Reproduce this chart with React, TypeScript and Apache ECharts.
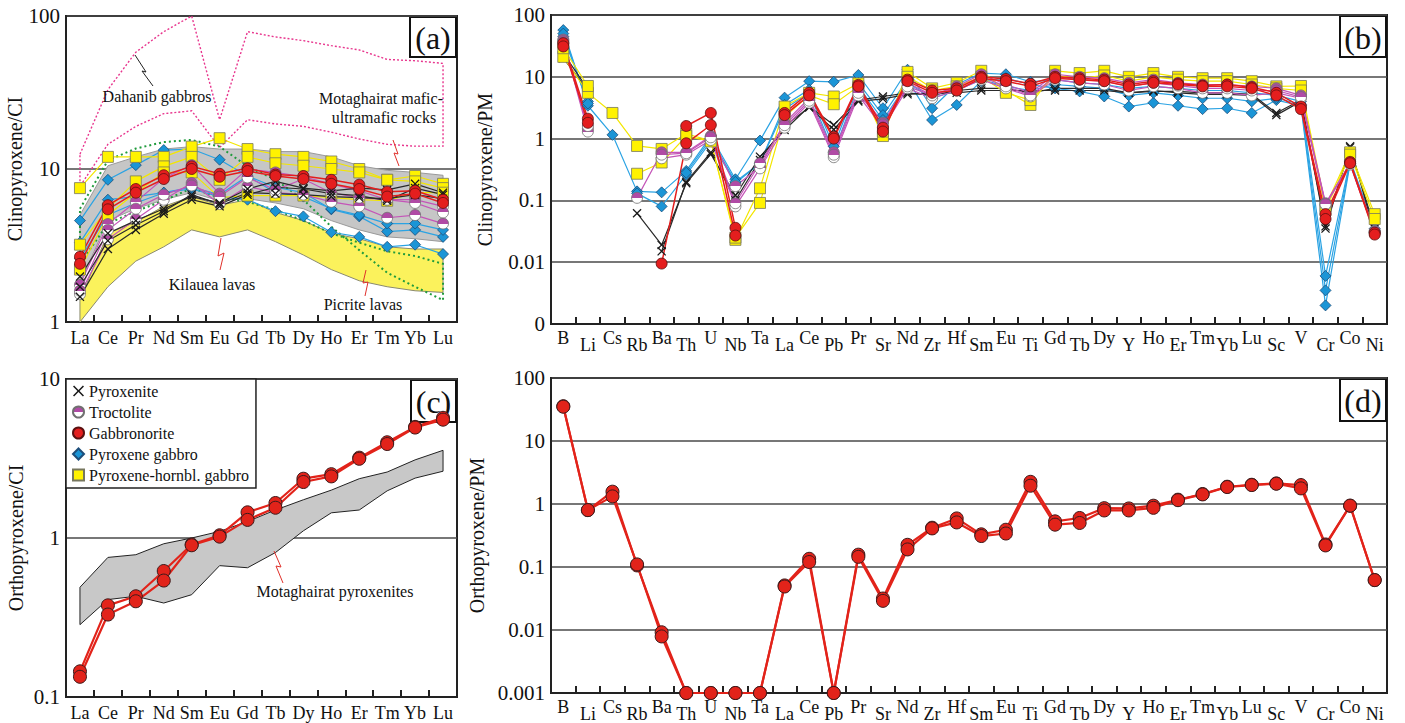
import React, { useEffect, useRef } from 'react';
import * as echarts from 'echarts';

const SERIF = 'Liberation Serif';

// ---------- categories ----------
const REE = ['La', 'Ce', 'Pr', 'Nd', 'Sm', 'Eu', 'Gd', 'Tb', 'Dy', 'Ho', 'Er', 'Tm', 'Yb', 'Lu'];
const SPIDER = ['B', 'Li', 'Cs', 'Rb', 'Ba', 'Th', 'U', 'Nb', 'Ta', 'La', 'Ce', 'Pb', 'Pr', 'Sr', 'Nd', 'Zr', 'Hf', 'Sm', 'Eu', 'Ti', 'Gd', 'Tb', 'Dy', 'Y', 'Ho', 'Er', 'Tm', 'Yb', 'Lu', 'Sc', 'V', 'Cr', 'Co', 'Ni'];

// ---------- panel (a): clinopyroxene / CI ----------
const aPyroxenite1 = [1.46, 3.0, 4.0, 5.1, 6.3, 5.7, 6.8, 7.6, 7.4, 6.9, 6.7, 6.2, 7.5, 6.8];
const aPyroxenite2 = [1.98, 3.8, 4.6, 5.5, 6.6, 6.0, 7.4, 8.3, 7.5, 7.2, 7.5, 7.3, 8.0, 7.0];
const aPyroxenite3 = [1.7, 3.4, 4.3, 5.3, 6.8, 5.9, 7.0, 6.9, 6.8, 6.6, 6.5, 6.4, 6.8, 6.4];
const aTroctolite1 = [1.75, 4.37, 6.1, 8.7, 10.6, 6.9, 10.0, 9.5, 8.9, 8.0, 7.2, 6.3, 6.3, 5.7];
const aTroctolite2 = [1.52, 3.47, 4.7, 6.3, 8.1, 5.9, 7.7, 7.0, 6.8, 6.1, 5.7, 4.8, 5.0, 4.4];
const aTroctolite3 = [1.6, 4.0, 5.5, 6.8, 7.8, 6.6, 8.8, 7.3, 8.6, 7.0, 6.5, 6.3, 6.0, 5.2];
const aGabbronorite1 = [2.67, 5.8, 7.4, 9.1, 10.4, 9.3, 10.1, 9.2, 9.0, 8.5, 7.9, 7.1, 7.2, 6.3];
const aGabbronorite2 = [2.4, 5.45, 7.0, 8.6, 10.0, 8.9, 9.7, 9.0, 8.6, 8.0, 7.4, 6.6, 6.9, 6.0];
const aPxGabbro1 = [4.6, 8.5, 10.6, 13.3, 13.5, 11.5, 9.0, 7.6, 7.0, 5.45, 4.9, 3.9, 4.0, 3.6];
const aPxGabbro2 = [3.3, 6.3, 6.6, 7.0, 7.4, 6.6, 6.3, 5.3, 4.9, 3.86, 3.6, 3.1, 3.2, 2.78];
const aPxGabbro3 = [2.6, 5.0, 6.0, 7.0, 7.6, 6.8, 9.0, 7.0, 6.6, 5.5, 5.0, 4.4, 4.4, 4.0];
const aPxHbGabbro1 = [7.5, 12.0, 12.0, 12.0, 14.0, 15.9, 13.5, 12.5, 12.0, 11.2, 10.0, 8.5, 9.0, 8.0];
const aPxHbGabbro2 = [3.2, 5.5, 8.3, 10.4, 12.0, 8.5, 12.0, 10.9, 10.5, 10.0, 9.5, 8.5, 8.3, 7.5];
const aPxHbGabbro3 = [2.2, 5.0, 7.0, 9.5, 9.5, 6.5, 6.7, 6.7, 6.7, 6.5, 6.3, 6.2, 7.0, 7.0];

// fields of panel (a)
const dahanibUpper = [12.5, 33, 58, 79, 100, 21, 79, 73, 69, 64, 60, 52, 51, 49];
const dahanibLower = [7.7, 14.5, 19, 23, 24, 13.8, 21, 19.7, 19, 17.4, 15.7, 14.5, 14.1, 14.1];
const motaghairatUpper = [5.0, 10.5, 12, 13.5, 14, 13.5, 13.5, 13, 13, 12, 10.5, 9.8, 9.5, 9.1];
const motaghairatLower = [1.8, 4.6, 5.5, 6.3, 7.0, 6.2, 6.4, 6.0, 5.5, 4.6, 4.0, 3.6, 3.5, 3.35];
const kilaueaUpper = [1.4, 3.8, 4.5, 5.7, 6.6, 5.8, 6.3, 5.2, 4.6, 3.8, 3.5, 3.1, 3.0, 3.0];
const kilaueaLower = [1.0, 1.7, 2.5, 3.1, 4.0, 3.6, 4.0, 3.35, 2.74, 2.2, 1.86, 1.7, 1.6, 1.56];
const picriteUpper = [5.5, 11.4, 13.6, 15, 15.5, 14, 10.4, 8.5, 6.3, 4.2, 2.95, 2.1, 1.7, 1.39];
const picriteLower = [2.4, 4.4, 5.3, 6.2, 7.5, 6.5, 6.1, 5.4, 4.6, 3.8, 3.3, 2.9, 2.7, 2.4];

// ---------- panel (b): clinopyroxene / PM ----------
const bPxGabbro1 = [57, 3.4, 1.15, 0.14, 0.135, 0.3, 1.1, 0.22, 0.93, 4.6, 8.5, 8.3, 10.7, 3.1, 13, 3.1, 7.5, 11.5, 11, 8.3, 9, 8, 7.5, 6.5, 7, 6.5, 6, 6, 5.5, 5, 4, 0.006, 0.45, 0.035];
const bPxGabbro2 = [45, 4.0, null, 0.13, 0.08, 0.26, 0.9, 0.19, 0.4, 3.5, 6.2, 0.75, 8, 2.4, 9, 2.0, 3.5, 8.5, 9.5, 7.5, 6.5, 5.8, 4.8, 3.3, 3.8, 3.4, 3.0, 3.1, 2.6, 4.2, 3.4, 0.002, 0.4, 0.03];
const bPxGabbro3 = [50, 3.7, null, null, null, 0.28, 1.0, 0.2, 0.4, 3.0, 5.5, 0.6, 7, 2.0, 8, 4.5, 6, 9, 7, 6, 7.5, 7, 6.5, 5, 5.5, 5, 4.5, 4.5, 4, 4.5, 3.6, 0.0035, 0.42, 0.032];
const bPxHbGabbro1 = [21, 5.5, 2.6, 0.76, 0.68, 1.2, 0.92, 0.023, 0.157, 3.3, 5.5, 4.8, 7.8, 1.1, 12, 6.5, 8, 12.5, 6, 3.5, 12.5, 11.5, 12.5, 10, 11.5, 10, 9.5, 9.5, 8.5, 7, 7.1, 0.08, 0.6, 0.06];
const bPxHbGabbro2 = [29, 7.1, null, 0.27, 0.41, 1.1, 0.9, 0.025, 0.091, 2.26, 5.0, 3.6, 7, 1.3, 10, 6, 7, 10, 5.5, 4.2, 10.5, 9.5, 10.5, 8.5, 10, 9, 8.5, 8.5, 7.5, 6.5, 6, 0.07, 0.55, 0.05];
const bGabbronorite1 = [35, 2.1, null, null, null, 1.6, 2.6, 0.036, null, 2.6, 5.5, 1.07, 7.4, 1.5, 9, 6, 6.5, 10, 9.2, 7.7, 10, 9.5, 9, 7.5, 8.5, 7.8, 7.2, 7.5, 6.8, 5.5, 3.3, 0.06, 0.42, 0.03];
const bGabbronorite2 = [31, 1.8, null, null, 0.0095, 0.84, 1.66, 0.027, null, 2.4, 5.0, 1.0, 7.0, 1.3, 8.5, 5.5, 6, 9.5, 8.5, 7, 9.5, 9, 8.5, 7, 8, 7.5, 7, 7, 6.5, 5, 3.0, 0.05, 0.4, 0.028];
const bTroctolite1 = [40, 1.45, null, 0.11, 0.6, 0.6, 1.1, 0.17, 0.35, 1.8, 4.5, 0.6, 6, 1.8, 8, 5, 7, 11, 7.5, 5.5, 11, 10, 9.5, 8, 9, 8, 7.5, 7.5, 7, 6.5, 5, 0.09, 0.4, 0.032];
const bTroctolite2 = [38, 1.3, null, null, 0.48, 0.55, 0.95, 0.08, 0.33, 1.5, 3.8, 0.5, 5, 1.5, 6.5, 4.5, 6, 9, 6.5, 4.8, 9, 8, 7.5, 6, 7, 6.5, 5.5, 5.5, 5, 5.5, 4.5, 0.085, 0.38, 0.03];
const bTroctolite3 = [36, 1.6, null, null, 0.55, 0.58, 1.05, 0.09, 0.4, 1.65, 4.1, 0.55, 5.5, 1.7, 7, 5, 6.5, 10, 7, 5, 10, 9, 8.5, 7, 8, 7.2, 6.5, 6.5, 6, 6, 4.7, 0.087, 0.4, 0.031];
const bPyroxenite1 = [24, 6.3, null, 0.062, 0.019, 0.19, 0.56, 0.12, 0.51, 1.38, 3.3, 1.66, 4.2, 4.8, 5.5, 5, 6, 6.5, 6.5, 5.5, 6.5, 6.5, 6.5, 5.5, 6, 5.5, 5.2, 5.2, 5, 2.4, 4, 0.035, 0.75, 0.03];
const bPyroxenite2 = [20, 6, null, null, 0.015, 0.2, 0.6, 0.1, 0.45, 1.6, 3.2, 1.4, 4.0, 4.4, 5.2, 5.5, 5.5, 6, 6, 6, 6, 6, 6, 5.5, 5.8, 5.8, 5.5, 5.5, 5.2, 2.6, 4.2, 0.038, 0.72, 0.035];

// ---------- panel (c): orthopyroxene / CI ----------
const cGabbronorite1 = [0.145, 0.377, 0.43, 0.62, 0.91, 1.04, 1.45, 1.66, 2.36, 2.52, 3.2, 4.0, 5.0, 5.7];
const cGabbronorite2 = [0.134, 0.33, 0.40, 0.54, 0.90, 1.02, 1.30, 1.55, 2.25, 2.44, 3.15, 3.9, 4.95, 5.55];
const cFieldUpper = [0.49, 0.755, 0.785, 0.92, 1.0, 1.1, 1.27, 1.5, 1.74, 2.0, 2.36, 2.6, 3.1, 3.56];
const cFieldLower = [0.285, 0.41, 0.43, 0.39, 0.44, 0.67, 0.65, 0.81, 1.11, 1.44, 1.5, 1.98, 2.38, 2.63];

// ---------- panel (d): orthopyroxene / PM ----------
const dGabbronorite1 = [35.7, 0.80, 1.57, 0.106, 0.0092, 0.001, 0.001, 0.001, 0.001, 0.051, 0.135, 0.001, 0.157, 0.0316, 0.225, 0.42, 0.59, 0.33, 0.39, 2.25, 0.53, 0.6, 0.86, 0.85, 0.94, 1.17, 1.44, 1.88, 2.02, 2.12, 2.0, 0.228, 0.94, 0.062];
const dGabbronorite2 = [35, 0.80, 1.32, 0.11, 0.0079, 0.001, 0.001, 0.001, 0.001, 0.049, 0.12, 0.001, 0.145, 0.029, 0.19, 0.41, 0.51, 0.31, 0.34, 1.95, 0.47, 0.5, 0.79, 0.79, 0.87, 1.15, 1.42, 1.86, 2.0, 2.1, 1.77, 0.22, 0.94, 0.062];

const CROSS = 'path://M1,0L5,4L9,0L10,1L6,5L10,9L9,10L5,6L1,10L0,9L4,5L0,1Z';

function buildOption() {
  const trocFill = new echarts.graphic.LinearGradient(0, 0, 0, 1, [
    { offset: 0, color: '#b04aa5' },
    { offset: 0.5, color: '#b04aa5' },
    { offset: 0.5, color: '#ffffff' },
    { offset: 1, color: '#ffffff' },
  ]);
  const ST: any = {
    Pyroxenite: { symbol: CROSS, size: 9, color: '#1a1a1a', border: '#1a1a1a', bw: 0, line: '#2a2a2a', lw: 1.2 },
    Troctolite: { symbol: 'circle', size: 11, color: trocFill, border: '#707070', bw: 0.8, line: '#c455b8', lw: 1.2 },
    Gabbronorite: { symbol: 'circle', size: 11, color: '#e41e1e', border: '#5a1010', bw: 0.8, line: '#e41e1e', lw: 1.5 },
    'Pyroxene gabbro': { symbol: 'diamond', size: 11, color: '#1b95d6', border: '#1d4e7a', bw: 0.8, line: '#2ba3e3', lw: 1.2 },
    'Pyroxene-hornbl. gabbro': { symbol: 'rect', size: 11, color: '#fff200', border: '#77775e', bw: 0.8, line: '#f3e600', lw: 1.2 },
  };

  const ln = (grid: number, name: string, data: any[], extra: any = {}) => {
    const s = ST[name];
    return {
      type: 'line', name, xAxisIndex: grid, yAxisIndex: grid, data,
      symbol: s.symbol, symbolSize: s.size, connectNulls: false, z: 3,
      itemStyle: { color: s.color, borderColor: s.border, borderWidth: s.bw },
      lineStyle: { color: s.line, width: s.lw },
      emphasis: { disabled: true },
      ...extra,
    };
  };

  const field = (grid: number, upper: number[], lower: number[], style: any, z: number) => ({
    type: 'custom', xAxisIndex: grid, yAxisIndex: grid, z, silent: true,
    data: [[0, upper[0]]],
    encode: { x: 0, y: 1 },
    renderItem: (params: any, api: any) => {
      const pts: number[][] = [];
      upper.forEach((v, i) => pts.push(api.coord([i, v])));
      for (let i = lower.length - 1; i >= 0; i--) pts.push(api.coord([i, lower[i]]));
      return { type: 'polygon', shape: { points: pts }, style };
    },
  });

  const fmt = (v: number) => {
    const r = Number(v.toPrecision(6));
    return Math.abs(r - 0.001) < 1e-9 ? '0' : String(r);
  };
  const fmtPlain = (v: number) => String(Number(v.toPrecision(6)));

  const xAxis = (grid: number, cats: string[], stagger: boolean) => ({
    type: 'category', gridIndex: grid, data: cats, boundaryGap: true,
    axisLine: { show: true, lineStyle: { color: '#222', width: 2 } },
    axisTick: { show: true, inside: true, length: 7, lineStyle: { color: '#222', width: 2 } },
    splitLine: { show: false },
    axisLabel: stagger
      ? {
          interval: 0, margin: 5, color: '#111',
          formatter: (v: string, i: number) => (i % 2 === 0 ? `{u|${v}}` : `{d|${v}}`),
          rich: {
            u: { fontSize: 18, fontFamily: SERIF, color: '#111', padding: [0, 0, 0, 0] },
            d: { fontSize: 18, fontFamily: SERIF, color: '#111', padding: [7, 0, 0, 0] },
          },
        }
      : { interval: 0, margin: 7, fontSize: 18, fontFamily: SERIF, color: '#111' },
  });

  const yAxis = (grid: number, min: number, max: number, name: string, gap: number, f: any, split: number) => ({
    type: 'log', logBase: 10, gridIndex: grid, min, max, splitNumber: split,
    name, nameLocation: 'middle', nameGap: gap,
    nameTextStyle: { fontSize: 20, fontFamily: SERIF, color: '#111' },
    axisLine: { show: true, lineStyle: { color: '#222', width: 2 } },
    axisTick: { show: false },
    axisLabel: { fontSize: 21, fontFamily: SERIF, color: '#111', margin: 6, formatter: f },
    splitLine: { show: true, lineStyle: { color: '#4a4a4a', width: 1.6 } },
  });

  const gridBox = (left: number, top: number, width: number, height: number) => ({
    left, top, width, height, show: true, borderColor: '#222', borderWidth: 2, backgroundColor: 'transparent', containLabel: false,
  });

  const redBig = { symbolSize: 13, lineStyle: { color: '#e2231a', width: 2.2 }, itemStyle: { color: '#e2231a', borderColor: '#3b1a1a', borderWidth: 1 } };

  const series: any[] = [
    // (a) fields
    field(0, motaghairatUpper, motaghairatLower, { fill: '#c6c6c6', stroke: '#9a9a9a', lineWidth: 1 }, 1),
    field(0, kilaueaUpper, kilaueaLower, { fill: '#fbf25c', stroke: '#8a8a70', lineWidth: 1 }, 1),
    field(0, dahanibUpper, dahanibLower, { fill: 'none', stroke: '#e8368e', lineWidth: 1.4, lineDash: [2, 2] }, 2),
    field(0, picriteUpper, picriteLower, { fill: 'none', stroke: '#1f9b3c', lineWidth: 2, lineDash: [2, 3] }, 2),
    // (a) data
    ln(0, 'Pyroxene gabbro', aPxGabbro1),
    ln(0, 'Pyroxene gabbro', aPxGabbro2),
    ln(0, 'Pyroxene gabbro', aPxGabbro3),
    ln(0, 'Pyroxene-hornbl. gabbro', aPxHbGabbro1),
    ln(0, 'Pyroxene-hornbl. gabbro', aPxHbGabbro2),
    ln(0, 'Pyroxene-hornbl. gabbro', aPxHbGabbro3),
    ln(0, 'Troctolite', aTroctolite1),
    ln(0, 'Troctolite', aTroctolite2),
    ln(0, 'Troctolite', aTroctolite3),
    ln(0, 'Pyroxenite', aPyroxenite1),
    ln(0, 'Pyroxenite', aPyroxenite2),
    ln(0, 'Pyroxenite', aPyroxenite3),
    ln(0, 'Gabbronorite', aGabbronorite1),
    ln(0, 'Gabbronorite', aGabbronorite2),
    // (b) data
    ln(1, 'Pyroxene gabbro', bPxGabbro1, { clip: false }),
    ln(1, 'Pyroxene gabbro', bPxGabbro2, { clip: false }),
    ln(1, 'Pyroxene gabbro', bPxGabbro3, { clip: false }),
    ln(1, 'Pyroxenite', bPyroxenite1),
    ln(1, 'Pyroxenite', bPyroxenite2),
    ln(1, 'Pyroxene-hornbl. gabbro', bPxHbGabbro1),
    ln(1, 'Pyroxene-hornbl. gabbro', bPxHbGabbro2),
    ln(1, 'Troctolite', bTroctolite1),
    ln(1, 'Troctolite', bTroctolite2),
    ln(1, 'Troctolite', bTroctolite3),
    ln(1, 'Gabbronorite', bGabbronorite1),
    ln(1, 'Gabbronorite', bGabbronorite2),
    // (c)
    field(2, cFieldUpper, cFieldLower, { fill: '#c8c8c8', stroke: '#222', lineWidth: 1 }, 1),
    ln(2, 'Gabbronorite', cGabbronorite1, redBig),
    ln(2, 'Gabbronorite', cGabbronorite2, redBig),
    // (d)
    ln(3, 'Gabbronorite', dGabbronorite1, { clip: false, ...redBig }),
    ln(3, 'Gabbronorite', dGabbronorite2, { clip: false, ...redBig }),
  ];

  const labelBox = (x: number, y: number, w: number, h: number, t: string) => ({
    type: 'group', z: 50,
    children: [
      { type: 'rect', shape: { x, y, width: w, height: h }, style: { fill: '#fff', stroke: '#111', lineWidth: 2 } },
      { type: 'text', x: x + w / 2, y: y + h / 2 + 1, style: { text: t, fontSize: 32, fontFamily: SERIF, fill: '#111', align: 'center', verticalAlign: 'middle' } },
    ],
  });
  const note = (x: number, y: number, t: string) => ({
    type: 'text', x, y, z: 40,
    style: { text: t, fontSize: 16, fontFamily: SERIF, fill: '#111', align: 'center', verticalAlign: 'middle' },
  });
  const zig = (pts: number[][], color: string) => ({
    type: 'polyline', z: 40, shape: { points: pts }, style: { stroke: color, lineWidth: 1, fill: 'none' },
  });

  return {
    animation: false,
    backgroundColor: '#fff',
    textStyle: { fontFamily: SERIF },
    grid: [
      gridBox(66, 16, 391, 306),
      gridBox(551, 15, 836, 309),
      gridBox(66, 379, 391, 318),
      gridBox(551, 378, 836, 318),
    ],
    xAxis: [xAxis(0, REE, false), xAxis(1, SPIDER, true), xAxis(2, REE, false), xAxis(3, SPIDER, true)],
    yAxis: [
      yAxis(0, 1, 100, 'Clinopyroxene/CI', 40, fmtPlain, 2),
      yAxis(1, 0.001, 100, 'Clinopyroxene/PM', 56, fmt, 5),
      yAxis(2, 0.1, 10, 'Orthopyroxene/CI', 40, fmtPlain, 2),
      yAxis(3, 0.001, 100, 'Orthopyroxene/PM', 56, fmtPlain, 5),
    ],
    legend: {
      orient: 'vertical', left: 66, top: 379, z: 60,
      itemWidth: 11, itemHeight: 11, itemGap: 5,
      padding: [4, 7, 5, 6],
      backgroundColor: '#fff', borderColor: '#222', borderWidth: 1.5,
      textStyle: { fontSize: 16, fontFamily: SERIF, color: '#111' },
      selectedMode: false,
      data: [
        { name: 'Pyroxenite', icon: CROSS },
        { name: 'Troctolite', icon: 'circle' },
        { name: 'Gabbronorite', icon: 'circle' },
        { name: 'Pyroxene gabbro', icon: 'diamond' },
        { name: 'Pyroxene-hornbl. gabbro', icon: 'rect' },
      ],
    },
    graphic: [
      labelBox(410, 17, 46, 40, '(a)'),
      labelBox(1340, 16, 46, 41, '(b)'),
      labelBox(411, 380, 45, 42, '(c)'),
      labelBox(1340, 379, 46, 42, '(d)'),
      note(157, 96, 'Dahanib gabbros'),
      zig([[135, 55], [146, 72], [142, 71], [153, 86]], '#222'),
      note(381, 98, 'Motaghairat mafic-'),
      note(384, 117, 'ultramafic rocks'),
      zig([[393, 140], [398, 154], [394, 153], [399, 166]], '#e0302a'),
      note(212, 284, 'Kilauea lavas'),
      zig([[221, 238], [218, 256], [224, 253], [220, 270]], '#e0302a'),
      note(363, 304, 'Picrite lavas'),
      zig([[366, 270], [363, 283], [368, 282], [365, 296]], '#e0302a'),
      note(335, 591, 'Motaghairat pyroxenites'),
      zig([[274, 551], [281, 567], [276, 566], [283, 583]], '#e0302a'),
    ],
    series,
  };
}

export default function App() {
  const ref = useRef<HTMLDivElement>(null);
  useEffect(() => {
    if (!ref.current) return;
    const chart = echarts.init(ref.current, null, { renderer: 'svg' });
    chart.setOption(buildOption() as any);
    return () => chart.dispose();
  }, []);
  return (
    <div
      ref={ref}
      style={{ position: 'absolute', left: 0, top: 0, width: 1405, height: 723, background: '#fff' }}
    />
  );
}
